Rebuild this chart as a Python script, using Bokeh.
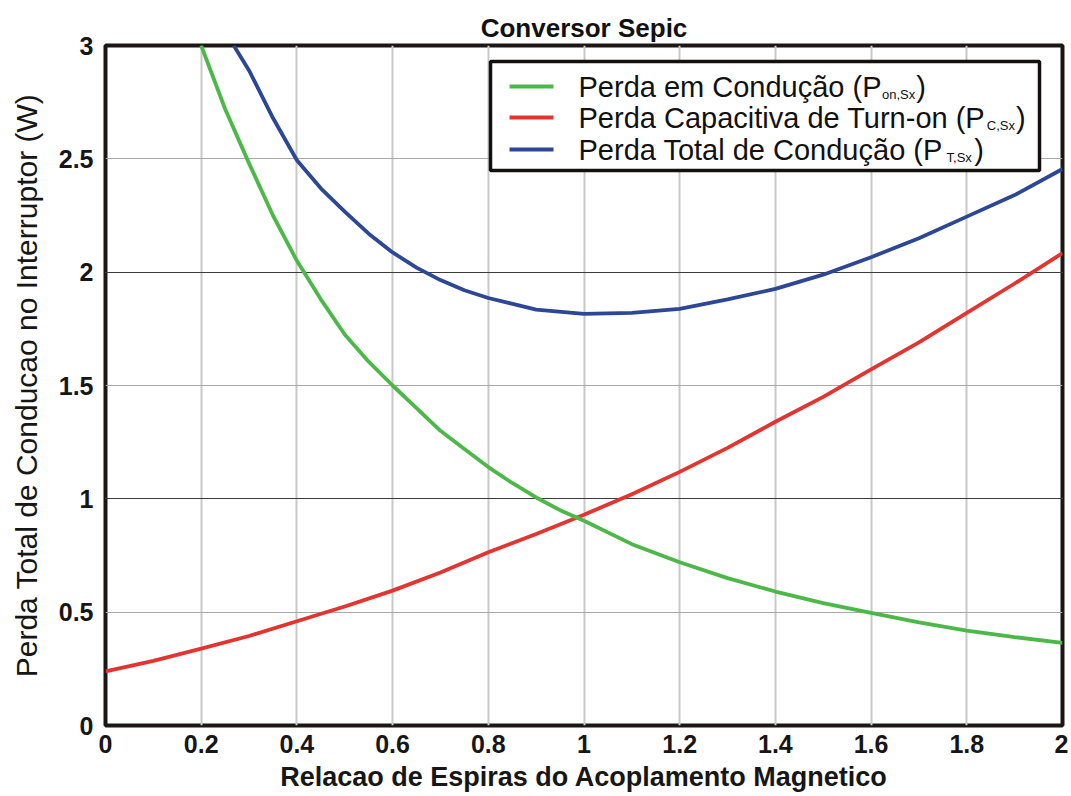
from bokeh.plotting import figure
from bokeh.models import Range1d, FixedTicker, Grid, BoxAnnotation, Label
from bokeh.embed import file_html
from bokeh.resources import INLINE

# ---------------- data ----------------
title_text = "Conversor Sepic"
x_label = "Relacao de Espiras do Acoplamento Magnetico"
y_label = "Perda Total de Conducao no Interruptor (W)"

x_ticks = [0, 0.2, 0.4, 0.6, 0.8, 1.0, 1.2, 1.4, 1.6, 1.8, 2.0]
x_tick_labels = ["0", "0.2", "0.4", "0.6", "0.8", "1", "1.2", "1.4", "1.6", "1.8", "2"]
y_ticks = [0, 0.5, 1, 1.5, 2, 2.5, 3]
y_tick_labels = ["0", "0.5", "1", "1.5", "2", "2.5", "3"]
y_int_ticks = [0, 1, 2, 3]

# Perda em Conducao (P_on,Sx)
cond_x = [0.2, 0.25, 0.3, 0.35, 0.4, 0.45, 0.5, 0.55, 0.6, 0.65, 0.7, 0.75, 0.8, 0.85,
          0.9, 0.95, 1.0, 1.1, 1.2, 1.3, 1.4, 1.5, 1.6, 1.7, 1.8, 1.9, 2.0]
cond_y = [3.0, 2.72, 2.48, 2.25, 2.05, 1.88, 1.725, 1.605, 1.50, 1.40, 1.30, 1.22, 1.14, 1.07,
          1.006, 0.95, 0.903, 0.80, 0.72, 0.65, 0.591, 0.54, 0.497, 0.455, 0.419, 0.39, 0.365]

# Perda Capacitiva de Turn-on (P_C,Sx)
cap_x = [0, 0.1, 0.2, 0.3, 0.4, 0.5, 0.6, 0.7, 0.8, 0.9, 1.0,
         1.1, 1.2, 1.3, 1.4, 1.5, 1.6, 1.7, 1.8, 1.9, 2.0]
cap_y = [0.239, 0.285, 0.339, 0.395, 0.46, 0.525, 0.595, 0.675, 0.764, 0.845, 0.93,
         1.02, 1.119, 1.225, 1.34, 1.45, 1.571, 1.69, 1.82, 1.95, 2.084]

# Perda Total de Conducao (P_T,Sx)
tot_x = [0.268, 0.3, 0.35, 0.4, 0.45, 0.5, 0.55, 0.6, 0.65, 0.7, 0.75, 0.8, 0.9, 1.0,
         1.1, 1.2, 1.3, 1.4, 1.5, 1.6, 1.7, 1.8, 1.9, 2.0]
tot_y = [3.0, 2.89, 2.68, 2.494, 2.37, 2.267, 2.17, 2.087, 2.02, 1.965, 1.92, 1.886, 1.835, 1.816,
         1.82, 1.838, 1.88, 1.926, 1.989, 2.066, 2.15, 2.245, 2.34, 2.455]

legend_main = ["Perda em Condução (P", "Perda Capacitiva de Turn-on (P", "Perda Total de Condução (P"]
legend_sub = ["on,Sx", "C,Sx", "T,Sx"]
legend_close = ")"

# ---------------- styles ----------------
FONT = "Liberation Sans"
colors = ["#4cb848", "#e3342f", "#2c4796"]

p = figure(width=1068, height=794, output_backend="svg", toolbar_location=None,
           x_range=Range1d(0, 2), y_range=Range1d(0, 3),
           min_border_left=105, min_border_right=6, min_border_top=45, min_border_bottom=67)

p.background_fill_color = "white"
p.border_fill_color = "white"
p.outline_line_color = "#1c1714"
p.outline_line_width = 4
p.outline_line_alpha = 1

p.title.text = title_text
p.title.align = "center"
p.title.text_font = FONT
p.title.text_font_size = "26px"
p.title.text_font_style = "bold"
p.title.text_color = "#111111"
p.title.standoff = 5

for ax in (p.xaxis[0], p.yaxis[0]):
    ax.axis_line_color = None
    ax.major_tick_line_color = None
    ax.minor_tick_line_color = None
    ax.major_label_text_font = FONT
    ax.major_label_text_font_size = "25px"
    ax.major_label_text_font_style = "bold"
    ax.major_label_text_color = "#161616"
    ax.axis_label_text_font = FONT
    ax.axis_label_text_color = "#161616"

p.xaxis.ticker = FixedTicker(ticks=x_ticks)
p.xaxis.major_label_overrides = {t: l for t, l in zip(x_ticks, x_tick_labels)}
p.xaxis.major_label_standoff = 3
p.xaxis.axis_label = x_label
p.xaxis.axis_label_text_font_size = "27px"
p.xaxis.axis_label_text_font_style = "bold"
p.xaxis.axis_label_standoff = 6

p.yaxis.ticker = FixedTicker(ticks=y_ticks)
p.yaxis.major_label_overrides = {t: l for t, l in zip(y_ticks, y_tick_labels)}
p.yaxis.major_label_standoff = 6
p.yaxis.axis_label = y_label
p.yaxis.axis_label_text_font_size = "30px"
p.yaxis.axis_label_text_font_style = "normal"
p.yaxis.axis_label_standoff = 13

p.xgrid.ticker = FixedTicker(ticks=x_ticks)
p.xgrid.grid_line_color = "#c8c8c8"
p.xgrid.grid_line_width = 2
p.ygrid.ticker = FixedTicker(ticks=y_ticks)
p.ygrid.grid_line_color = "#a8a8a8"
p.ygrid.grid_line_width = 1.2
g_int = Grid(dimension=1, ticker=FixedTicker(ticks=y_int_ticks),
             grid_line_color="#3c3c3c", grid_line_width=1.2)
p.add_layout(g_int)

p.line(cap_x, cap_y, line_color=colors[1], line_width=3.8)
p.line(cond_x, cond_y, line_color=colors[0], line_width=3.8)
p.line(tot_x, tot_y, line_color=colors[2], line_width=3.8)

# ---------------- legend (custom, with subscripts) ----------------
ARIAL_W = {' ': 278, '(': 333, ')': 333, ',': 278, '-': 333, 'C': 722, 'P': 667, 'S': 667,
           'T': 611, 'a': 556, 'c': 500, 'd': 556, 'e': 556, 'i': 222, 'l': 222, 'm': 833,
           'n': 556, 'o': 556, 'p': 556, 'r': 333, 's': 500, 't': 278, 'u': 556, 'v': 500,
           'x': 500, 'ç': 500, 'ã': 556}


def text_w(s, size):
    return sum(ARIAL_W.get(c, 556) for c in s) * size / 1000.0


LEG_FONT = 29
SUB_FONT = 13
scr = dict(left_units="screen", right_units="screen", top_units="screen", bottom_units="screen")
p.add_layout(BoxAnnotation(left=385, right=934, bottom=555, top=664, fill_color="white",
                           fill_alpha=1, line_color="#141010", line_width=3.5, line_alpha=1, **scr))
row_y = [639, 608, 576]
text_x0 = 473
for i in range(3):
    yc = row_y[i]
    p.add_layout(BoxAnnotation(left=404, right=448, bottom=yc - 2, top=yc + 2,
                               fill_color=colors[i], fill_alpha=1, line_color=None, **scr))
    p.add_layout(Label(x=text_x0, y=yc, x_units="screen", y_units="screen", text=legend_main[i],
                       text_font=FONT, text_font_size=f"{LEG_FONT}px", text_baseline="middle",
                       text_align="left", text_color="#111111"))
    xs = text_x0 + text_w(legend_main[i], LEG_FONT) + 0.5
    p.add_layout(Label(x=xs, y=yc - 8, x_units="screen", y_units="screen", text=legend_sub[i],
                       text_font=FONT, text_font_size=f"{SUB_FONT}px", text_baseline="middle",
                       text_align="left", text_color="#111111"))
    xc = xs + text_w(legend_sub[i], SUB_FONT) + 1
    p.add_layout(Label(x=xc, y=yc, x_units="screen", y_units="screen", text=legend_close,
                       text_font=FONT, text_font_size=f"{LEG_FONT}px", text_baseline="middle",
                       text_align="left", text_color="#111111"))

open("out.html", "w").write(file_html(p, INLINE))
